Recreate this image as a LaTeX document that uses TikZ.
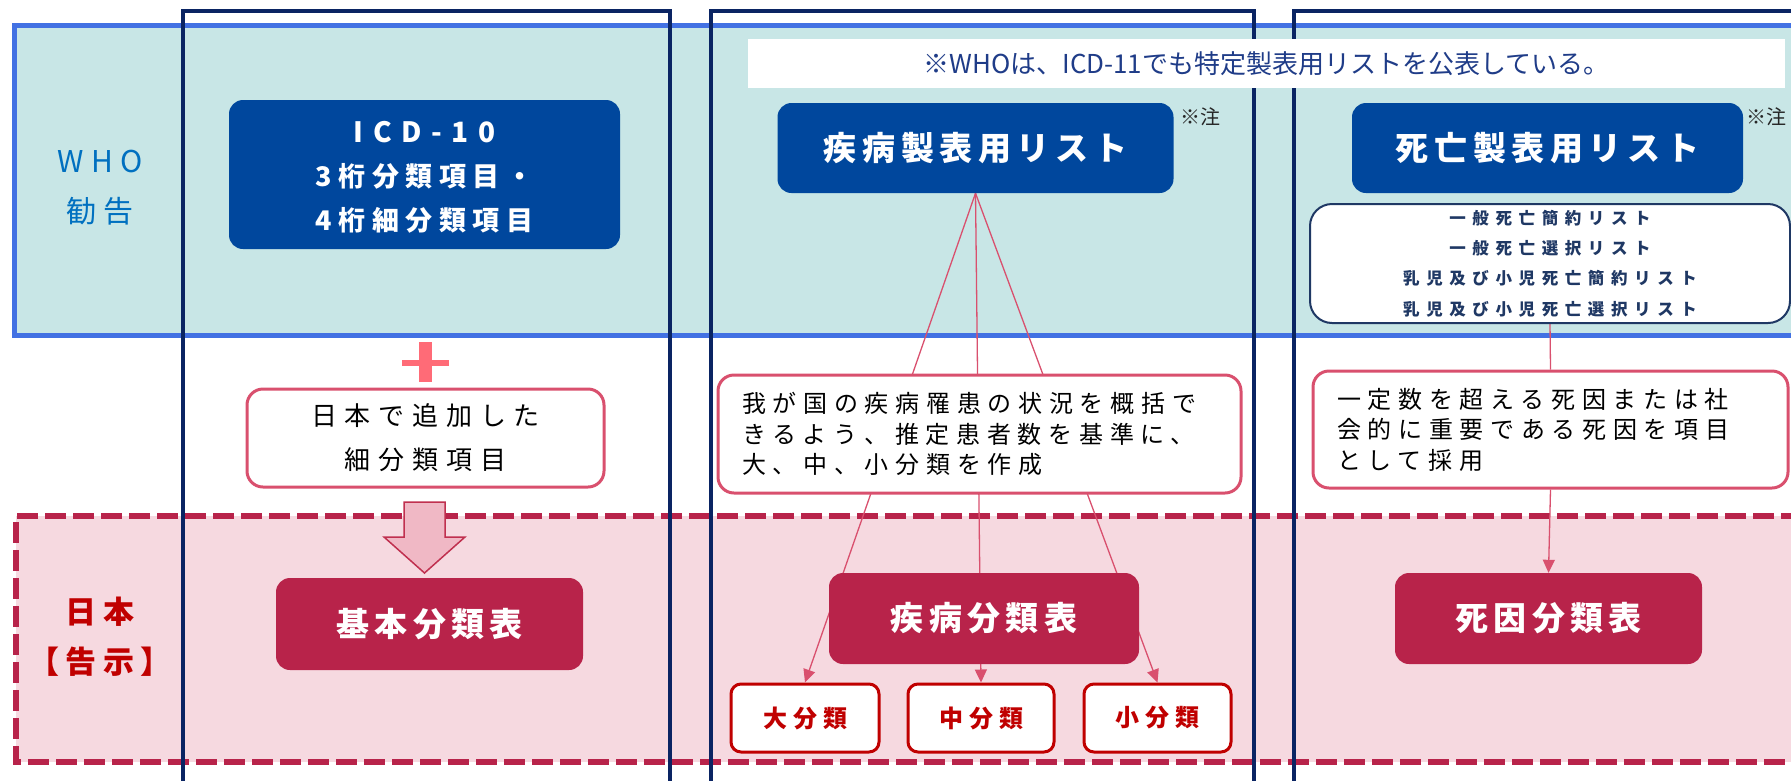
\documentclass[tikz,border=0pt]{standalone}
\usepackage{fontspec}
\setmainfont{Noto Sans CJK JP}
\usetikzlibrary{arrows.meta}
\definecolor{teal}{HTML}{C8E6E6}
\definecolor{bandblue}{HTML}{4271E3}
\definecolor{navy}{HTML}{0A2463}
\definecolor{dkblue}{HTML}{00479D}
\definecolor{whoblue}{HTML}{0070C0}
\definecolor{bannertext}{HTML}{1F3C88}
\definecolor{listnavy}{HTML}{1F3864}
\definecolor{pinkfill}{HTML}{F6D9E0}
\definecolor{crimson}{HTML}{B8234A}
\definecolor{pinkline}{HTML}{D9506E}
\definecolor{darkred}{HTML}{C00000}
\definecolor{plusred}{HTML}{FF6B77}
\definecolor{arrfill}{HTML}{F0B8C5}
\definecolor{arrline}{HTML}{C0304F}
\newcommand{\myfs}[2]{\fontsize{#1}{#2}\selectfont}
\newcommand{\myls}[1]{\addfontfeatures{LetterSpace=#1}}
\pgfdeclarelayer{back}
\pgfdeclarelayer{mid}
\pgfdeclarelayer{lines}
\pgfsetlayers{back,mid,lines,main}
\tikzset{
  bluebox/.style={fill=dkblue, rounded corners=14pt, text=white, inner sep=0pt, align=center},
  redbox/.style={fill=crimson, rounded corners=14pt, text=white, inner sep=0pt, align=center,
    font=\myfs{33}{38}\bfseries\myls{16}},
  pinkbox/.style={draw=pinkline, line width=3pt, fill=white, rounded corners=16pt, inner sep=0pt},
  smallbox/.style={draw=darkred, line width=3pt, fill=white, rounded corners=10pt, text=darkred,
    inner sep=0pt, font=\myfs{24}{26}\bfseries\myls{25}},
  conn/.style={draw=pinkline, line width=1.3pt},
  arr/.style={conn, -{Triangle[length=13pt,width=12pt]}},
  colframe/.style={draw=navy, line width=4pt},
}
\begin{document}
\begin{tikzpicture}[x=1pt,y=-1pt]
\useasboundingbox (0,0) rectangle (1791,780);
\clip (0,0) rectangle (1791,780);

% bands
\begin{pgfonlayer}{back}
  \draw[fill=teal, draw=bandblue, line width=5pt] (14,25) rectangle (1830,335);
  \fill[pinkfill] (16,516) rectangle (1830,762);
  \draw[crimson, line width=6pt, dash pattern=on 21pt off 7pt] (1830,516) -- (16,516) -- (16,762) -- (1830,762);
\end{pgfonlayer}

% columns
\begin{pgfonlayer}{mid}
  \draw[colframe] (183,11) rectangle (670,820);
  \draw[colframe] (711,11) rectangle (1254,820);
  \draw[colframe] (1294,11) rectangle (1830,820);
\end{pgfonlayer}

% banner
\node[fill=white, minimum width=1037pt, minimum height=49pt, inner sep=0pt, text=bannertext,
  font=\myfs{26}{30}] (banner) at (1266.5,63.5) {※WHOは、ICD-11でも特定製表用リストを公表している。};

% labels
\node[text=whoblue, align=center, font=\myfs{30}{50}\myls{25}] (who) at (100,188) {WHO\\勧告};
\node[text=darkred, align=center, font=\myfs{31}{50}\bfseries\myls{20}] (jp) at (100,637) {日本\\【告示】};

% WHO row boxes
\node[bluebox, minimum width=391pt, minimum height=149pt] (icd) at (424.5,174.5) {};
\node[text=white, align=center, inner sep=0pt, font=\myfs{27}{44}\bfseries\myls{24}] (icdtext) at (424.5,177.5)
  {{\myfs{28}{44}\myls{34}ICD-10}\\3桁分類項目・\\4桁細分類項目};
\node[bluebox, minimum width=396pt, minimum height=90pt, font=\myfs{33}{38}\bfseries\myls{17}] (sick) at (975.5,148) {疾病製表用リスト};
\node[bluebox, minimum width=391pt, minimum height=90pt, font=\myfs{33}{38}\bfseries\myls{17}] (death) at (1547.5,148) {死亡製表用リスト};
\node[font=\myfs{20}{20}, text=black!85] (note1) at (1200,117) {※注};
\node[font=\myfs{20}{20}, text=black!85] (note2) at (1766,117) {※注};
\node[draw=listnavy, line width=2pt, fill=white, rounded corners=22pt, minimum width=480pt, minimum height=119pt,
  inner sep=0pt, align=center, text=listnavy, font=\myfs{16.5}{30.3}\bfseries\myls{40}] (list) at (1550,263.5)
  {一般死亡簡約リスト\\一般死亡選択リスト\\乳児及び小児死亡簡約リスト\\乳児及び小児死亡選択リスト};

% middle row
\fill[plusred] (402,360) rectangle (449,366);
\fill[plusred] (419,342) rectangle (432,382);
\node[pinkbox, minimum width=357pt, minimum height=98pt, align=center, font=\myfs{26}{44}\myls{30}] (add) at (425.5,438) {日本で追加した\\細分類項目};
\node[pinkbox, minimum width=523pt, minimum height=118pt, align=left, text width=475pt, font=\myfs{24}{30.5}\myls{28}] (desc1) at (979.5,434)
  {我が国の疾病罹患の状況を概括で\\きるよう、推定患者数を基準に、\\大、中、小分類を作成};
\node[pinkbox, minimum width=475pt, minimum height=117pt, align=left, text width=427pt, font=\myfs{24}{30.5}\myls{28}] (desc2) at (1550.5,429.5)
  {一定数を超える死因または社\\会的に重要である死因を項目\\として採用};

% Japan row
\node[redbox, minimum width=307pt, minimum height=92pt] (kihon) at (429.5,624) {基本分類表};
\node[redbox, minimum width=310pt, minimum height=91pt] (shippei) at (984,618.5) {疾病分類表};
\node[redbox, minimum width=307pt, minimum height=91pt] (shiin) at (1548.5,618.5) {死因分類表};
\node[smallbox, minimum width=148pt, minimum height=68pt] (dai) at (805,718) {大分類};
\node[smallbox, minimum width=146pt, minimum height=68pt] (chu) at (981,718) {中分類};
\node[smallbox, minimum width=147pt, minimum height=68pt] (sho) at (1157.5,718) {小分類};

% block arrow
\filldraw[fill=arrfill, draw=arrline, line width=1.5pt]
  (404,502) -- (445,502) -- (445,537) -- (465,537) -- (424.5,573) -- (384,537) -- (404,537) -- cycle;

% connectors
\begin{pgfonlayer}{lines}
  \draw[arr] (sick.south) -- (dai.north);
  \draw[arr] (sick.south) -- (chu.north);
  \draw[arr] (sick.south) -- (sho.north);
  \draw[conn] (list.south) -- (desc2.north);
  \draw[arr] (desc2.south) -- (shiin.north);
\end{pgfonlayer}
\end{tikzpicture}
\end{document}
